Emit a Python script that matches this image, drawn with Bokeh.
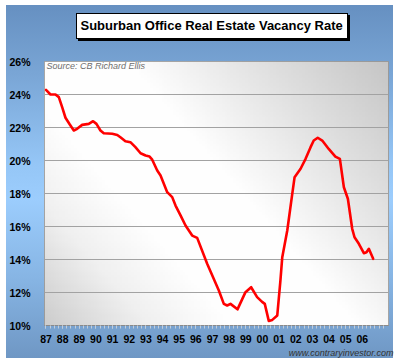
import numpy as np
from bokeh.plotting import figure
from bokeh.models import FixedTicker, Label, Range1d, Title
from bokeh.embed import file_html
from bokeh.resources import INLINE

TITLE = "Suburban Office Real Estate Vacancy Rate"
SOURCE = "Source:  CB Richard Ellis"
CREDIT = "www.contraryinvestor.com"

years = [1987.0, 1987.27, 1987.57, 1987.77, 1987.97, 1988.17, 1988.43, 1988.67, 1988.87, 1989.17,
         1989.57, 1989.83, 1990.03, 1990.27, 1990.47, 1990.98, 1991.28, 1991.47, 1991.77, 1992.07,
         1992.37, 1992.68, 1992.98, 1993.22, 1993.38, 1993.68, 1993.88, 1994.28, 1994.58, 1994.78,
         1995.08, 1995.38, 1995.78, 1996.08, 1996.68, 1997.38, 1997.68, 1997.88, 1998.08, 1998.5,
         1998.98, 1999.32, 1999.68, 1999.98, 2000.14, 2000.38, 2000.59, 2000.89, 2001.08, 2001.19,
         2001.49, 2001.79, 2001.93, 2002.29, 2002.59, 2002.89, 2003.08, 2003.32, 2003.59, 2003.98,
         2004.38, 2004.65, 2004.89, 2005.13, 2005.39, 2005.53, 2005.79, 2006.09, 2006.25, 2006.39,
         2006.65]
vacancy = [24.28, 24.0, 24.0, 23.84, 23.23, 22.59, 22.18, 21.82, 21.92, 22.16,
           22.22, 22.38, 22.22, 21.82, 21.65, 21.62, 21.55, 21.41, 21.17, 21.11,
           20.81, 20.44, 20.3, 20.24, 20.05, 19.39, 19.09, 18.08, 17.78, 17.27,
           16.67, 16.06, 15.45, 15.31, 13.74, 12.12, 11.31, 11.21, 11.31, 10.98,
           12.02, 12.32, 11.72, 11.43, 11.31, 10.28, 10.34, 10.61, 12.73, 14.14,
           15.76, 17.98, 18.99, 19.5, 20.1, 20.81, 21.21, 21.38, 21.21, 20.7,
           20.24, 20.1, 18.38, 17.68, 15.86, 15.35, 14.95, 14.38, 14.44, 14.65,
           14.04]

tick_years = list(range(1987, 2007))
tick_labels = ["87", "88", "89", "90", "91", "92", "93", "94", "95", "96",
               "97", "98", "99", "00", "01", "02", "03", "04", "05", "06"]
y_ticks = [10, 12, 14, 16, 18, 20, 22, 24, 26]
y_labels = ["10%", "12%", "14%", "16%", "18%", "20%", "22%", "24%", "26%"]

W, H = 400, 363
X0, X1 = 1986.91, 2007.57
Y0, Y1 = 10, 26

p = figure(width=W, height=H, output_backend="svg", toolbar_location=None,
           title_location=None,
           x_range=Range1d(X0, X1), y_range=Range1d(Y0, Y1),
           min_border_left=44, min_border_right=12, min_border_top=61, min_border_bottom=38)

p.border_fill_alpha = 0
p.styles = {"background": (
    "linear-gradient(#ffffff,#ffffff) 77px 14px / 270px 24px no-repeat, "
    "linear-gradient(#000000,#000000) 76px 13px / 272px 26px no-repeat, "
    "linear-gradient(#000000,#000000) 78px 15px / 272px 26px no-repeat, "
    "linear-gradient(to bottom, #6690c1 0%, #7aa6d6 20%, #95c6f6 45%, #9ccdfd 55%, #86b4e3 78%, #6f97c4 100%) "
    "6px 5px / 387px 353px no-repeat, #ffffff")}
p.outline_line_color = "#8a8a8a"
p.outline_line_width = 1

# frame background gradient (diagonal, grey corners, white band)
nx, ny = 120, 100
u = np.linspace(0, 1, nx)[None, :]
v = np.linspace(0, 1, ny)[:, None]
t = (u * 0.6 + v * 0.4)
c = np.interp(t, [0.0, 0.18, 0.32, 0.55, 0.8, 1.0], [205, 240, 254, 254, 222, 198])
img = np.zeros((ny, nx), dtype=np.uint32)
view = img.view(dtype=np.uint8).reshape((ny, nx, 4))
view[:, :, 0] = c.astype(np.uint8)
view[:, :, 1] = c.astype(np.uint8)
view[:, :, 2] = c.astype(np.uint8)
view[:, :, 3] = 255
bg = p.image_rgba(image=[img], x=X0, y=Y0, dw=X1 - X0, dh=Y1 - Y0)
bg.level = "image"

p.line(years, vacancy, line_color="#ff0000", line_width=2.6, line_join="round", line_cap="round")

# grid
p.xgrid.grid_line_color = None
p.ygrid.grid_line_color = "#a2a2a2"
p.ygrid.grid_line_width = 1

# axes
FONT = "Liberation Sans"
p.xaxis.ticker = FixedTicker(ticks=tick_years, minor_ticks=list(np.arange(1987, 2007.5, 0.25)))
p.xaxis.major_label_overrides = {yr: lb for yr, lb in zip(tick_years, tick_labels)}
p.xaxis.axis_line_color = "#8a8a8a"
p.xaxis.major_tick_line_color = "#c2cedb"
p.xaxis.minor_tick_line_color = "#c2cedb"
p.xaxis.major_tick_out = 3
p.xaxis.major_tick_in = 0
p.xaxis.minor_tick_out = 3
p.xaxis.minor_tick_in = 0
p.xaxis.major_label_standoff = 6

p.yaxis.ticker = FixedTicker(ticks=y_ticks)
p.yaxis.major_label_overrides = {tk: lb for tk, lb in zip(y_ticks, y_labels)}
p.yaxis.axis_line_color = None
p.yaxis.major_tick_line_color = None
p.yaxis.minor_tick_line_color = None
p.yaxis.major_label_standoff = 8

for ax in (p.xaxis[0], p.yaxis[0]):
    ax.major_label_text_font = FONT
    ax.major_label_text_font_style = "bold"
    ax.major_label_text_font_size = "10.5px"
    ax.major_label_text_color = "#000000"

# spacer between frame and title, then the title text (box drawn by page background)
spacer = Title(text=" ", align="left", standoff=26, text_font=FONT, text_font_size="1px")
p.add_layout(spacer, "above")
main_title = Title(text=TITLE, align="left", offset=36, standoff=0,
                   text_font=FONT, text_font_style="bold", text_font_size="13px",
                   text_color="#000000")
p.add_layout(main_title, "above")

credit = Title(text=CREDIT, align="right", offset=-5, standoff=0,
               text_font=FONT, text_font_style="italic", text_font_size="9px",
               text_color="#333333")
p.add_layout(credit, "below")

src = Label(x=2, y=259.5, x_units="screen", y_units="screen", text=SOURCE,
            text_align="left", text_baseline="middle", text_font=FONT,
            text_font_style="italic", text_font_size="9px", text_color="#6e6e6e")
p.add_layout(src)

open("out.html", "w").write(file_html(p, INLINE))
